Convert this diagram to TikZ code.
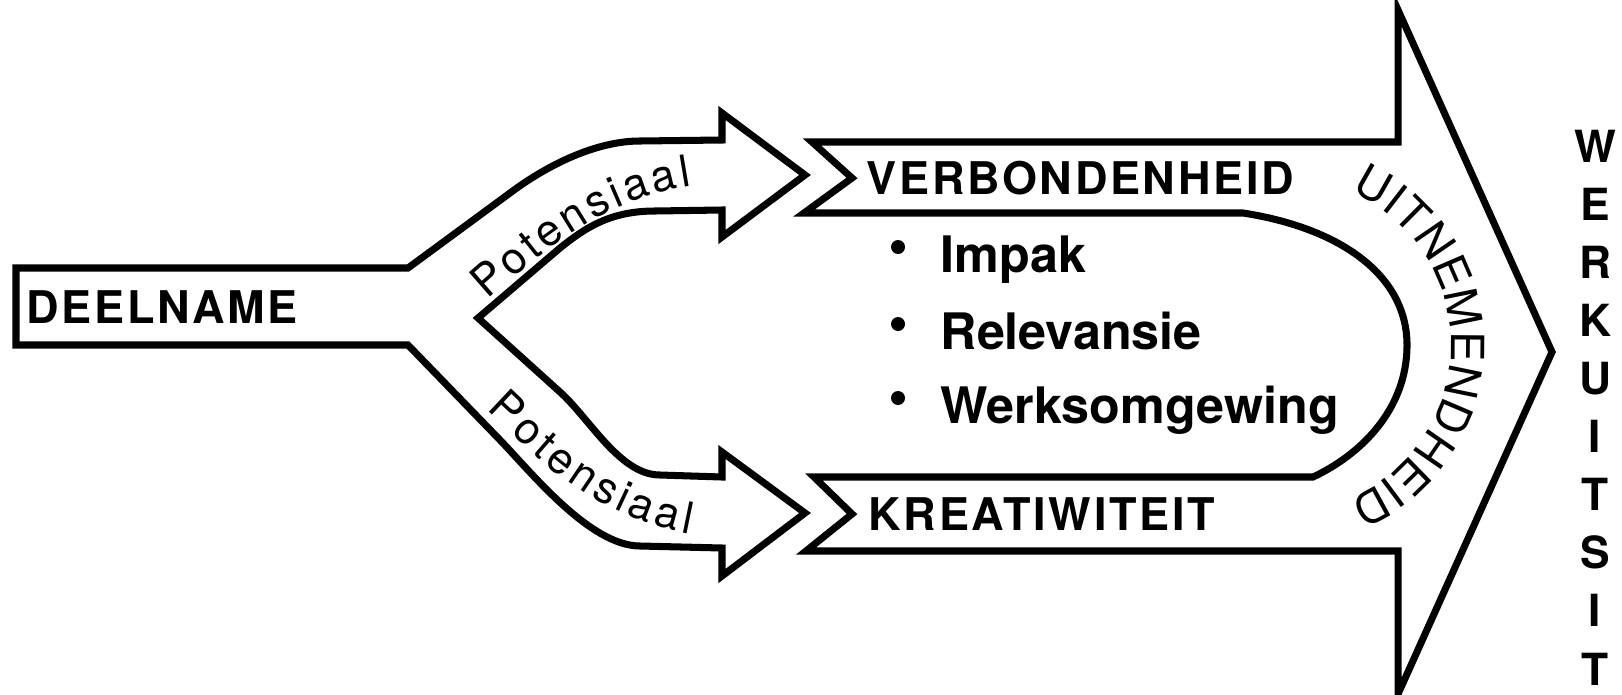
\documentclass[tikz,border=0pt]{standalone}
\usepackage{fontspec}
\setmainfont{TeX Gyre Heros}
\newfontfamily\spacedfont{TeX Gyre Heros}[LetterSpace=6.0]
\usetikzlibrary{decorations.text}

\begin{document}
\begin{tikzpicture}[
    x=0.01cm, y=-0.01cm,
    outline/.style={draw=black, line width=2pt, line join=miter},
    capslabel/.style={anchor=west, inner sep=0pt, font=\fontsize{12.8}{15}\spacedfont\bfseries},
    listitem/.style={anchor=base west, inner sep=0pt, font=\fontsize{14.3}{17}\selectfont\bfseries},
    vertletter/.style={inner sep=0pt, font=\fontsize{12.6}{14}\selectfont\bfseries},
    curvetext/.style={decorate, decoration={text along path, text align={fit to path}, text={#1}}},
]
\useasboundingbox (0,0) rectangle (1622,694);

% ============ input stem with two branches ============
\draw[outline] (16,268) -- (408,268) -- (510,193) .. controls (546,166) and (595,141) .. (640,141) -- (722,140)
    -- (722,113) -- (805,175) -- (722,237) -- (722,210)
    -- (655,211) .. controls (610,211) and (585,228) .. (560,248) -- (478,318)
    -- (560,392) .. controls (590,419) and (620,475) .. (660,475) -- (722,477)
    -- (722,452) -- (805,513) -- (722,576) -- (722,548)
    -- (640,546) .. controls (590,546) and (531,472) .. (500,440) -- (408,345) -- (16,345) -- cycle;

% ============ big output arrow with banners ============
\draw[outline] (812,142) -- (1398,142) -- (1398,10) -- (1552,352) -- (1398,694) -- (1398,551)
    -- (806,551) -- (852,514) -- (814,477) -- (1313,477)
    .. controls (1360,455) and (1407,410) .. (1407,345)
    .. controls (1407,275) and (1340,228) .. (1243,213)
    -- (804,213) -- (852,178) -- cycle;

% ============ labels ============
\node[capslabel] (deelname) at (26,307) {DEELNAME};
\node[capslabel] (verbondenheid) at (866,178) {VERBONDENHEID};
\node[capslabel] (kreatiwiteit) at (868,514) {KREATIWITEIT};

% curved texts
\path[curvetext={|\fontsize{12.5}{14}\selectfont|Potensiaal}] (488,300) .. controls (545,250) and (600,200) .. (692,186);
\path[curvetext={|\fontsize{12.5}{14}\selectfont|Potensiaal}] (486,410) .. controls (540,460) and (590,515) .. (690,534);
\path[curvetext={|\fontsize{13}{15}\selectfont|UITNEMENDHEID}] (1283,345) ++(-66:168) arc[start angle=-66, end angle=67, radius=168];

% list
\foreach \txt/\yb [count=\i] in {Impak/272, Relevansie/349, Werksomgewing/423} {
    \fill (898,\yb-25) circle[radius=7];
    \node[listitem] (item\i) at (940,\yb) {\txt};
}

% vertical word
\foreach \ch [count=\i] in {W,E,R,K,U,I,T,S,I,T} {
    \node[vertletter] (wk\i) at (1595,{146+58.1*(\i-1)}) {\ch};
}

\end{tikzpicture}
\end{document}
